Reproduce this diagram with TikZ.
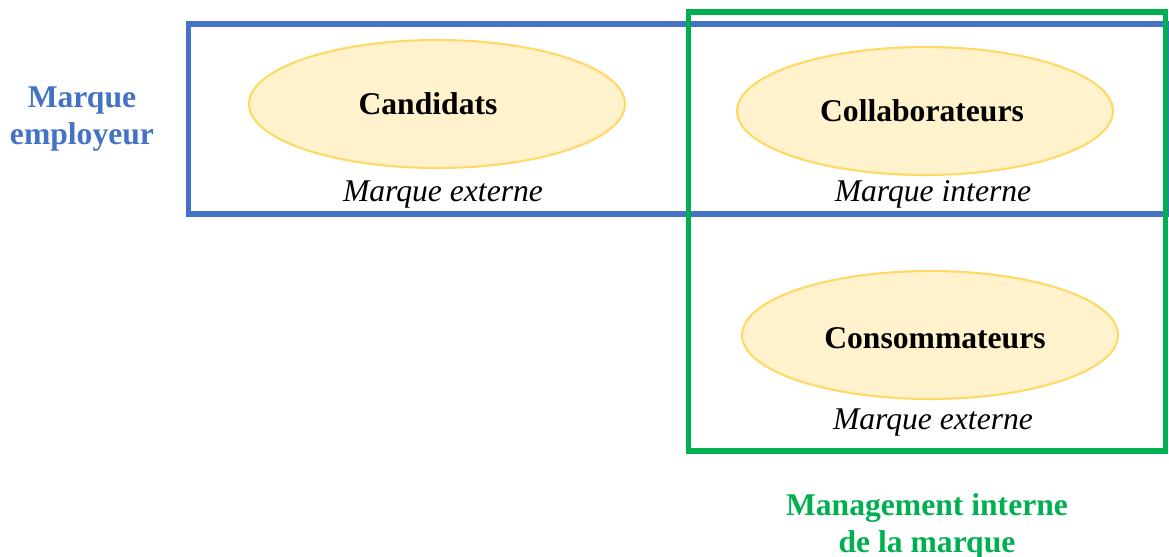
\documentclass[tikz,border=0pt]{standalone}
\usepackage{fontspec}
\setmainfont{Liberation Serif}
\usetikzlibrary{positioning, shapes.geometric}

\definecolor{brandBlue}{HTML}{4472C4}
\definecolor{brandGreen}{HTML}{00B050}
\definecolor{ovalFill}{HTML}{FFF2CC}
\definecolor{ovalLine}{HTML}{FFD966}

\tikzset{
    target/.style={ellipse, draw=ovalLine, fill=ovalFill, line width=1.2pt,
        minimum width=7.52cm, minimum height=2.56cm},
    targetName/.style={inner sep=0pt, font=\fontsize{18}{21}\selectfont\bfseries},
    brandType/.style={inner sep=0pt, font=\fontsize{18}{21}\selectfont\itshape},
    sideLabel/.style={align=center, inner sep=0pt, font=\fontsize{18}{21}\selectfont\bfseries}
}

\begin{document}
\begin{tikzpicture}[x=0.02cm, y=-0.02cm, node distance=1mm]
        \useasboundingbox (0,0) rectangle (1169,557);
        % the two areas
        \draw[brandBlue, line width=3.4pt] (188.5,24) rectangle (1166,214);
        \draw[brandGreen, line width=2.85pt] (688,12) rectangle (1165,451);
        \node[target] (candidats) at (437,104) {};
        \node[target] (collaborateurs) at (925,111) {};
        \node[target] (consommateurs) at (930,335) {};
        \node[targetName] (candidatsText) at ([xshift=-1.8mm]candidats) {Candidats};
        \node[targetName] (collaborateursText) at ([xshift=-0.6mm]collaborateurs) {Collaborateurs};
        \node[targetName] (consommateursText) at ([xshift=1mm, yshift=-0.6mm]consommateurs) {Consommateurs};
        \node[brandType, below = 2.2mm of candidats, xshift=1.2mm] (externeCandidats) {Marque externe};
        \node[brandType, below = 0.8mm of collaborateurs, xshift=1.6mm] (interne) {Marque interne};
        \node[brandType, below = 1.6mm of consommateurs, xshift=0.6mm] (externeConso) {Marque externe};
        \node[sideLabel, text=brandBlue] (employeur) at (82,119) {Marque\\employeur};
        \node[sideLabel, text=brandGreen] (management) at (927,526) {Management interne\\de la marque};
    \end{tikzpicture}
\end{document}
